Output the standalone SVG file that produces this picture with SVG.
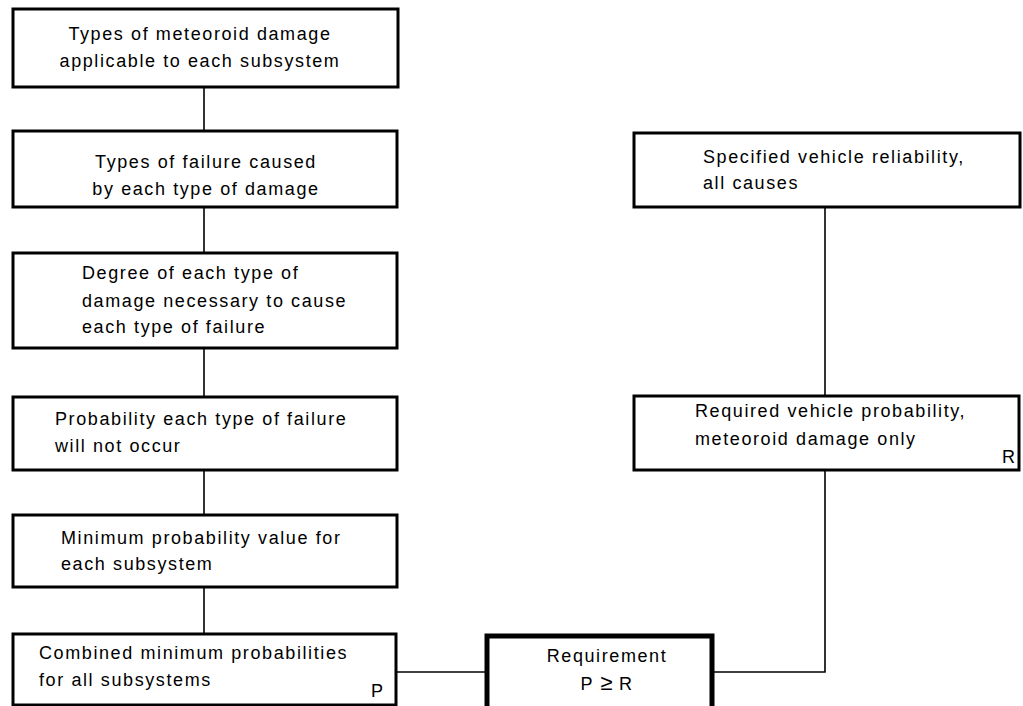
<svg xmlns="http://www.w3.org/2000/svg" width="1023" height="706" viewBox="0 0 1023 706">
<style>
.box{fill:#fff;stroke:#000;stroke-width:3}
.req{fill:#fff;stroke:#000;stroke-width:5}
.con{fill:none;stroke:#000;stroke-width:1.6}
text{font-family:"Liberation Sans",Arial,sans-serif;font-size:18px;letter-spacing:1.6px;fill:#000}
.c{text-anchor:middle}
.ge{font-size:22px;letter-spacing:0}
</style>
<rect width="1023" height="706" fill="#fff"/>
<g id="connectors">
<line class="con" x1="204" y1="87" x2="204" y2="131"/>
<line class="con" x1="204" y1="207" x2="204" y2="253"/>
<line class="con" x1="204" y1="348" x2="204" y2="397"/>
<line class="con" x1="204" y1="470" x2="204" y2="515"/>
<line class="con" x1="204" y1="587" x2="204" y2="634"/>
<line class="con" x1="396" y1="672" x2="486" y2="672"/>
<line class="con" x1="825" y1="207" x2="825" y2="396"/>
<polyline class="con" points="825,470 825,672 713,672"/>
</g>
<g id="n1">
<rect class="box" x="13" y="9" width="385" height="78"/>
<text class="c" x="200" y="40">Types of meteoroid damage</text>
<text class="c" x="200" y="67">applicable to each subsystem</text>
</g>
<g id="n2">
<rect class="box" x="13" y="131" width="384" height="76"/>
<text class="c" x="206" y="168">Types of failure caused</text>
<text class="c" x="206" y="195">by each type of damage</text>
</g>
<g id="n3">
<rect class="box" x="13" y="253" width="384" height="95"/>
<text x="82" y="279">Degree of each type of</text>
<text x="82" y="307">damage necessary to cause</text>
<text x="82" y="333">each type of failure</text>
</g>
<g id="n4">
<rect class="box" x="13" y="397" width="384" height="73"/>
<text x="55" y="425">Probability each type of failure</text>
<text x="55" y="452">will not occur</text>
</g>
<g id="n5">
<rect class="box" x="13" y="515" width="384" height="72"/>
<text x="61" y="544">Minimum probability value for</text>
<text x="61" y="570">each subsystem</text>
</g>
<g id="n6">
<rect class="box" x="13" y="634" width="383" height="71"/>
<text x="39" y="659">Combined minimum probabilities</text>
<text x="39" y="686">for all subsystems</text>
<text x="371" y="697">P</text>
</g>
<g id="n7">
<rect class="req" x="487" y="636" width="225" height="75"/>
<text class="c" x="607" y="662">Requirement</text>
<text class="c" x="607" y="690">P <tspan class="ge">≥</tspan> R</text>
</g>
<g id="n8">
<rect class="box" x="634" y="133" width="386" height="74"/>
<text x="703" y="163">Specified vehicle reliability,</text>
<text x="703" y="189">all causes</text>
</g>
<g id="n9">
<rect class="box" x="634" y="396" width="385" height="74"/>
<text x="695" y="417">Required vehicle probability,</text>
<text x="695" y="445">meteoroid damage only</text>
<text x="1002" y="463">R</text>
</g>
</svg>
